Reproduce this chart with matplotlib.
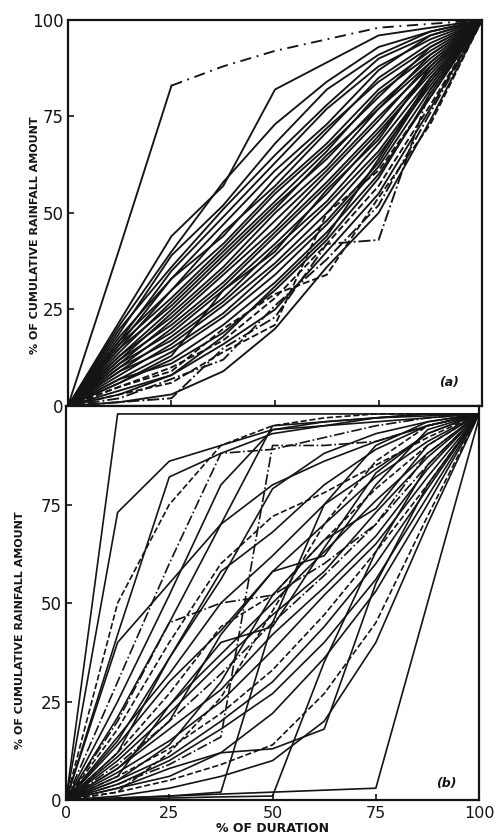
import matplotlib
matplotlib.use("Agg")
import matplotlib.pyplot as plt

# percent of duration at which each mass curve was read
duration = [0, 12.5, 25, 37.5, 50, 62.5, 75, 87.5, 100]
tick_values = [0, 25, 50, 75, 100]
tick_labels = ["0", "25", "50", "75", "100"]

# panel (a): cumulative rainfall (%) per storm
curves_a = [
    [0, 41, 83, 88, 92, 95, 98, 99, 100],
    [0, 22, 44, 57, 82, 89, 96, 98, 100],
    [0, 21, 40, 58, 73, 84, 93, 97, 100],
    [0, 19, 39, 52, 68, 82, 91, 97, 100],
    [0, 20, 36, 51, 65, 78, 90, 96, 100],
    [0, 17, 35, 49, 63, 77, 88, 95, 100],
    [0, 18, 33, 47, 61, 73, 87, 96, 100],
    [0, 16, 33, 44, 59, 72, 84, 93, 100],
    [0, 17, 30, 45, 57, 71, 85, 94, 100],
    [0, 15, 30, 42, 56, 68, 82, 92, 100],
    [0, 16, 28, 41, 55, 67, 80, 93, 100],
    [0, 14, 27, 40, 53, 66, 81, 91, 100],
    [0, 15, 26, 39, 52, 64, 78, 90, 100],
    [0, 13, 25, 38, 51, 65, 77, 91, 100],
    [0, 12, 24, 36, 50, 62, 77, 89, 100],
    [0, 13, 23, 35, 48, 61, 75, 88, 100],
    [0, 11, 22, 34, 46, 60, 74, 89, 100],
    [0, 12, 21, 32, 45, 58, 72, 87, 100],
    [0, 10, 20, 31, 44, 57, 71, 86, 100],
    [0, 11, 19, 30, 42, 55, 70, 87, 100],
    [0, 9, 18, 28, 41, 53, 68, 85, 100],
    [0, 10, 17, 27, 39, 52, 66, 84, 100],
    [0, 8, 16, 26, 37, 50, 65, 83, 100],
    [0, 9, 15, 24, 36, 48, 63, 84, 100],
    [0, 7, 14, 23, 34, 47, 62, 82, 100],
    [0, 6, 12, 21, 32, 45, 60, 80, 100],
    [0, 7, 11, 19, 30, 43, 59, 81, 100],
    [0, 5, 10, 17, 28, 42, 57, 78, 100],
    [0, 4, 8, 16, 25, 40, 55, 77, 100],
    [0, 3, 6, 14, 21, 50, 61, 80, 100],
    [0, 2, 7, 12, 26, 38, 52, 76, 100],
    [0, 1, 3, 9, 20, 36, 50, 74, 100],
    [0, 1, 2, 15, 23, 42, 43, 82, 100],
    [0, 5, 9, 20, 29, 34, 54, 73, 100],
    [0, 3, 8, 18, 31, 44, 64, 85, 100],
    [0, 6, 13, 30, 40, 56, 69, 88, 100],
]
styles_a = ["-"] * 27 + ["--", "-", "--", "-.", "-", "-.", "--", "-", "-"]

# panel (b): cumulative rainfall (%) per storm
curves_b = [
    [0, 98, 98, 98, 98, 98, 98, 98, 98],
    [0, 73, 86, 90, 94, 96, 97, 98, 98],
    [0, 42, 82, 88, 93, 95, 97, 97.5, 98],
    [0, 30, 60, 88, 89, 92, 95, 97, 98],
    [0, 25, 52, 80, 94, 95, 96, 97, 98],
    [0, 21, 45, 70, 95, 96, 97, 98, 98],
    [0, 40, 55, 70, 80, 86, 91, 95, 98],
    [0, 15, 36, 56, 79, 88, 93, 96, 98],
    [0, 18, 40, 60, 72, 78, 85, 92, 98],
    [0, 16, 32, 50, 62, 75, 84, 93, 98],
    [0, 14, 30, 43, 58, 70, 82, 91, 98],
    [0, 12, 27, 44, 52, 66, 79, 90, 98],
    [0, 11, 24, 37, 50, 63, 76, 88, 98],
    [0, 10, 22, 35, 47, 58, 73, 87, 98],
    [0, 9, 20, 32, 45, 57, 70, 85, 98],
    [0, 8, 18, 28, 42, 54, 67, 84, 98],
    [0, 7, 15, 25, 38, 52, 65, 82, 98],
    [0, 6, 13, 22, 33, 47, 63, 80, 98],
    [0, 5, 11, 20, 30, 44, 60, 79, 98],
    [0, 4, 10, 18, 27, 40, 56, 77, 98],
    [0, 3, 8, 12, 22, 36, 53, 75, 98],
    [0, 3, 6, 12, 13, 18, 55, 80, 98],
    [0, 2, 5, 9, 14, 27, 45, 72, 98],
    [0, 1, 3, 6, 10, 20, 40, 70, 98],
    [0, 0.5, 1, 2, 45, 75, 90, 96, 98],
    [0, 0.3, 0.5, 0.8, 1, 35, 63, 85, 98],
    [0, 0.5, 1, 1.5, 2, 2.5, 3, 50, 97],
    [0, 20, 45, 50, 52, 60, 70, 88, 98],
    [0, 12, 36, 58, 68, 80, 89, 95, 98],
    [0, 4, 9, 16, 90, 90, 91, 95, 98],
    [0, 50, 75, 90, 95, 97, 98, 98, 98],
    [0, 8, 20, 42, 58, 62, 80, 94, 98],
    [0, 6, 24, 40, 44, 64, 83, 93, 98],
    [0, 2, 12, 26, 48, 70, 86, 95, 98],
    [0, 5, 14, 30, 52, 66, 74, 90, 98],
]
styles_b = ["-", "-", "-", "-.", "-", "-", "-", "-", "--", "-", "-", "--", "-",
            "-", "-.", "-", "-", "--", "-", "-", "-", "-", "--", "-", "-", "-",
            "-", "-.", "-", "-.", "--", "-", "-", "--", "-"]

ylabel = "% OF CUMULATIVE RAINFALL AMOUNT"
xlabel = "% OF DURATION"

fig = plt.figure(figsize=(4.96, 8.4), dpi=100)
ax_a = fig.add_axes([0.137, 0.5167, 0.835, 0.4595])
ax_b = fig.add_axes([0.133, 0.0476, 0.833, 0.469])

ink = "#141414"
for ax, curves, styles, lw in ((ax_a, curves_a, styles_a, 1.35),
                               (ax_b, curves_b, styles_b, 1.2)):
    for i, (ys, ls) in enumerate(zip(curves, styles)):
        if ax is ax_a and i == 0:
            # steepest storm: solid rise, then a dash-dot tail
            ax.plot(duration[:3], ys[:3], color=ink, lw=lw, ls="-")
            ax.plot(duration[2:], ys[2:], color=ink, lw=lw, ls=(0, (6, 3, 1, 3)))
        else:
            ax.plot(duration, ys, color=ink, lw=lw, ls=ls, solid_capstyle="round")
    ax.set_xlim(0, 100)
    ax.set_ylim(0, 100)
    ax.set_xticks(tick_values)
    ax.set_yticks(tick_values)
    ax.set_yticklabels(tick_labels, fontsize=12, color=ink)
    ax.tick_params(direction="in", length=4, width=1.2, colors=ink)
    ax.tick_params(axis="y", pad=3)
    ax.tick_params(axis="x", pad=4)
    for s in ax.spines.values():
        s.set_linewidth(1.6)
        s.set_color(ink)

ax_a.set_xticklabels([])
ax_b.set_xticklabels(tick_labels, fontsize=11.5, color=ink)
ax_b.set_yticks(tick_values[:-1])
ax_b.set_yticklabels(tick_labels[:-1], fontsize=12, color=ink)

fig.text(0.070, 0.72, ylabel, rotation=90, ha="center", va="center",
         fontsize=8, fontweight="bold", color=ink)
fig.text(0.040, 0.25, ylabel, rotation=90, ha="center", va="center",
         fontsize=8, fontweight="bold", color=ink)
ax_b.set_xlabel(xlabel, fontsize=9, fontweight="bold", color=ink, labelpad=1)

ax_a.text(0.92, 0.06, "(a)", transform=ax_a.transAxes, fontsize=9,
          style="italic", fontweight="bold", ha="center", va="center", color=ink)
ax_b.text(0.92, 0.043, "(b)", transform=ax_b.transAxes, fontsize=9,
          style="italic", fontweight="bold", ha="center", va="center", color=ink)

fig.savefig("out.png", dpi=100, facecolor="white")
